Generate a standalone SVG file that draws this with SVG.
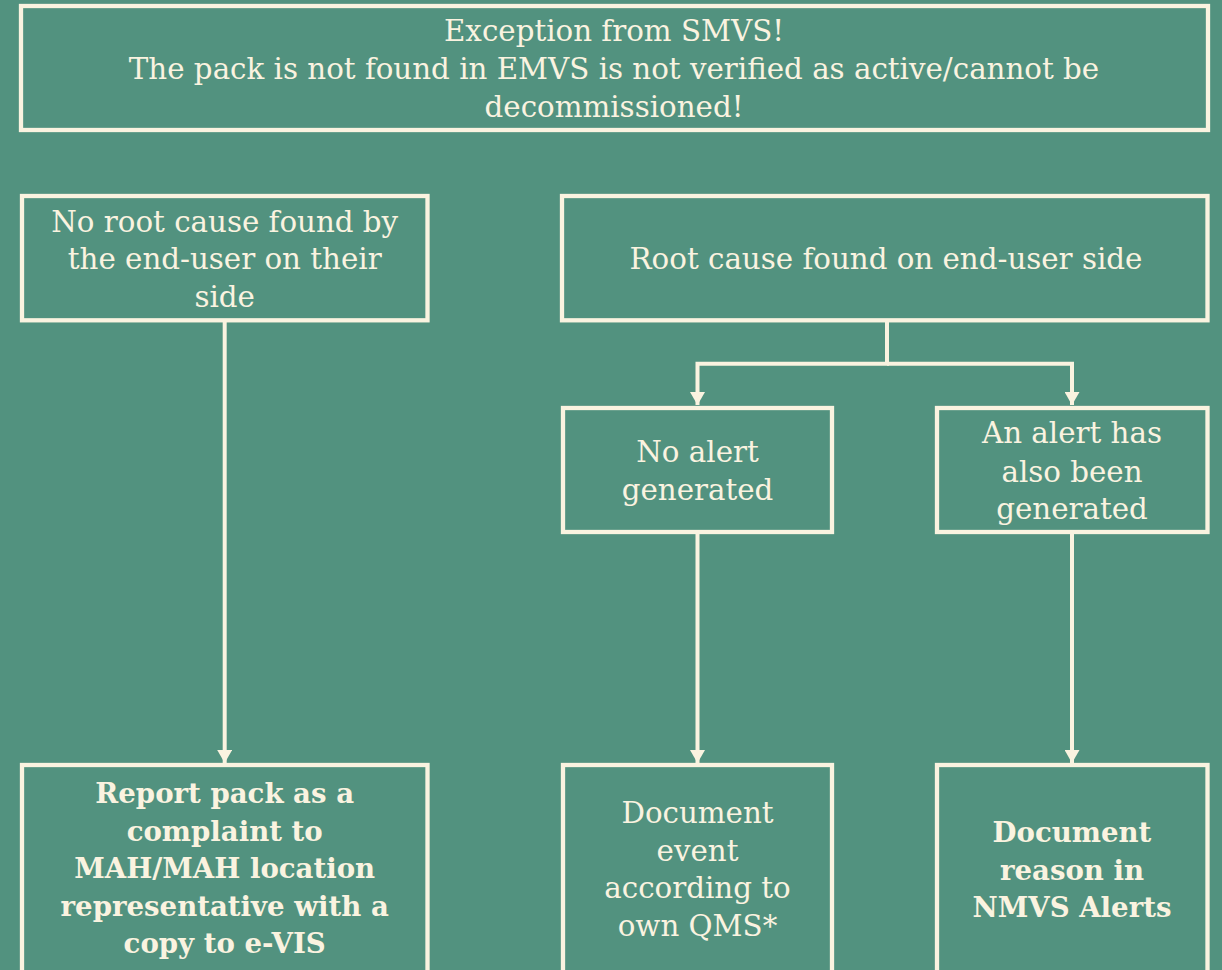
<svg xmlns="http://www.w3.org/2000/svg" width="1222" height="970" viewBox="0 0 1222 970">
<style>
.box{fill:none;stroke:#FAF3E0;stroke-width:4.3}
.t{font-family:"Roboto Slab","DejaVu Serif",serif;font-size:29.3px;fill:#FAF3E0;text-anchor:middle;font-weight:300}
.b{font-family:"Roboto Slab","DejaVu Serif",serif;font-size:27.6px;fill:#FAF3E0;text-anchor:middle;font-weight:700}
.c{fill:none;stroke:#FAF3E0;stroke-width:4}
</style>
<defs>
<marker id="ah" viewBox="0 0 13 15" refX="13" refY="7.5" markerUnits="userSpaceOnUse" markerWidth="13" markerHeight="15" orient="auto">
<path d="M0,0 L13,7.5 L0,15 Z" fill="#FAF3E0"/>
</marker>
</defs>
<rect width="1222" height="970" fill="#52927F"/>
<g id="connectors">
<path class="c" d="M224.7,322 V763" marker-end="url(#ah)"/>
<path class="c" d="M887,322 V363.7 H697.5 V405" marker-end="url(#ah)"/>
<path class="c" d="M887,363.7 H1072 V405" marker-end="url(#ah)"/>
<path class="c" d="M697.5,534 V763" marker-end="url(#ah)"/>
<path class="c" d="M1072,534 V763" marker-end="url(#ah)"/>
</g>
<g id="n-exception">
<rect class="box" x="21" y="6" width="1187" height="124"/>
<text class="t" x="614" y="41">Exception from SMVS!</text>
<text class="t" x="614" y="79">The pack is not found in EMVS is not verified as active/cannot be</text>
<text class="t" x="614" y="117">decommissioned!</text>
</g>
<g id="n-noroot">
<rect class="box" x="22" y="196" width="405.5" height="124.3"/>
<text class="t" x="224.7" y="232">No root cause found by</text>
<text class="t" x="224.7" y="269">the end-user on their</text>
<text class="t" x="224.7" y="307">side</text>
</g>
<g id="n-root">
<rect class="box" x="562" y="196" width="645.5" height="124.3"/>
<text class="t" x="886" y="269">Root cause found on end-user side</text>
</g>
<g id="n-noalert">
<rect class="box" x="563" y="408" width="269" height="124"/>
<text class="t" x="697.5" y="462">No alert</text>
<text class="t" x="697.5" y="500">generated</text>
</g>
<g id="n-alert">
<rect class="box" x="937" y="408" width="270.5" height="124"/>
<text class="t" x="1072" y="443">An alert has</text>
<text class="t" x="1072" y="482">also been</text>
<text class="t" x="1072" y="519">generated</text>
</g>
<g id="n-report">
<rect class="box" x="22" y="765" width="405.5" height="240"/>
<text class="b" x="224.7" y="803">Report pack as a</text>
<text class="b" x="224.7" y="840.5">complaint to</text>
<text class="b" x="224.7" y="878">MAH/MAH location</text>
<text class="b" x="224.7" y="915.5">representative with a</text>
<text class="b" x="224.7" y="953">copy to e-VIS</text>
</g>
<g id="n-docevent">
<rect class="box" x="563" y="765" width="269" height="240"/>
<text class="t" x="697.5" y="823">Document</text>
<text class="t" x="697.5" y="860.5">event</text>
<text class="t" x="697.5" y="898">according to</text>
<text class="t" x="697.5" y="936">own QMS*</text>
</g>
<g id="n-docreason">
<rect class="box" x="937" y="765" width="270.5" height="240"/>
<text class="b" x="1072" y="842">Document</text>
<text class="b" x="1072" y="880">reason in</text>
<text class="b" x="1072" y="917">NMVS Alerts</text>
</g>
</svg>
